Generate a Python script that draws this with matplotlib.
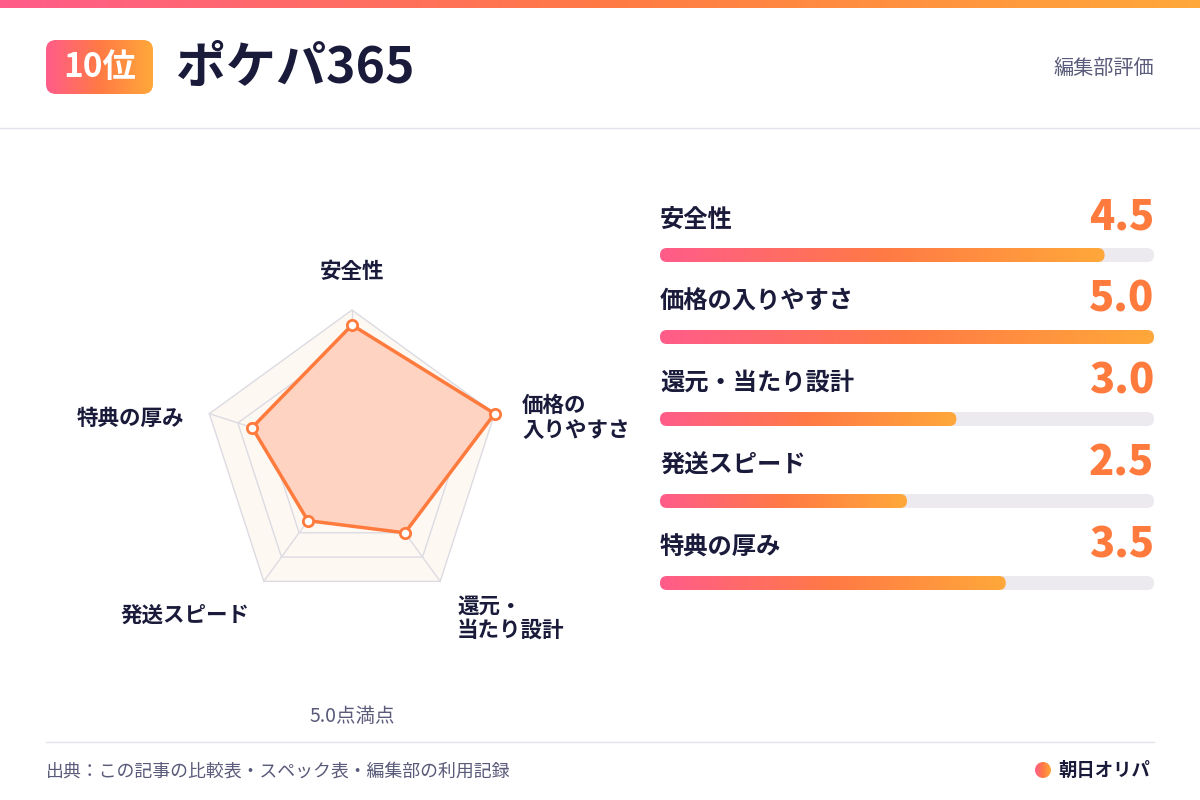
import numpy as np
import matplotlib
matplotlib.use('Agg')
import matplotlib.pyplot as plt
from matplotlib.patches import FancyBboxPatch, Polygon, Circle
from matplotlib.colors import LinearSegmentedColormap

plt.rcParams['font.family'] = ['Noto Sans CJK JP', 'DejaVu Sans']

categories = ['安全性', '価格の入りやすさ', '還元・当たり設計', '発送スピード', '特典の厚み']
radar_labels = ['安全性', '価格の\n入りやすさ', '還元・\n当たり設計', '発送スピード', '特典の厚み']
scores = [4.5, 5.0, 3.0, 2.5, 3.5]
max_score = 5.0

NAVY = '#1a1a3a'
GRAY = '#5a5a7a'
ORANGE = '#ff7a3d'
grad = LinearSegmentedColormap.from_list('g', ['#ff5c8a', '#ff7a45', '#ffa83a'])

fig = plt.figure(figsize=(12, 8), dpi=100)
ax = fig.add_axes([0, 0, 1, 1])
ax.set_xlim(0, 1200)
ax.set_ylim(800, 0)
ax.axis('off')

def gradient_rect(x0, x1, y0, y1, clip=None):
    g = np.linspace(0, 1, 256).reshape(1, -1)
    im = ax.imshow(g, cmap=grad, extent=[x0, x1, y1, y0], aspect='auto', zorder=3)
    if clip is not None:
        im.set_clip_path(clip)
    return im

# top stripe
gradient_rect(0, 1200, 0, 8)

# header
badge = FancyBboxPatch((46, 40), 107, 54, boxstyle='round,pad=0,rounding_size=10',
                       facecolor='none', edgecolor='none')
ax.add_patch(badge)
gradient_rect(46, 153, 40, 94, clip=badge)
ax.text(100, 68, '10位', color='white', fontsize=24, fontweight='bold', ha='center', va='center', zorder=4)
ax.text(176, 68, 'ポケパ365', color=NAVY, fontsize=36, fontweight='bold', ha='left', va='center')
ax.text(1154, 68, '編集部評価', color=GRAY, fontsize=14.5, ha='right', va='center')
ax.plot([0, 1200], [128, 128], color='#e2e2ea', lw=1)

# radar
cx, cy, R = 352, 460, 150
n = len(categories)
ang = np.pi / 2 - np.arange(n) * 2 * np.pi / n
def pts(vals):
    vals = np.asarray(vals) / max_score * R
    return np.column_stack([cx + vals * np.cos(ang), cy - vals * np.sin(ang)])

for lev in [1.0, 0.8, 0.6, 0.4, 0.2]:
    ax.add_patch(Polygon(pts([lev * max_score] * n), closed=True, facecolor='#fdf8f1',
                         edgecolor='#dcdbe3', lw=1, zorder=1))
for p in pts([max_score] * n):
    ax.plot([cx, p[0]], [cy, p[1]], color='#dcdbe3', lw=1, zorder=1)
dp = pts(scores)
ax.add_patch(Polygon(dp, closed=True, facecolor='#ffd3c1', edgecolor=ORANGE, lw=2.5, zorder=2))
ax.scatter(dp[:, 0], dp[:, 1], s=55, facecolor='white', edgecolor=ORANGE, linewidth=2, zorder=3)

label_pos = [(352, 272, 'center'), (522, 418, 'left'), (457, 618, 'left'),
             (185, 615, 'center'), (130, 418, 'center')]
for lab, (x, y, ha) in zip(radar_labels, label_pos):
    ax.text(x, y, lab, color=NAVY, fontsize=15.5, fontweight='bold', ha=ha, va='center',
            linespacing=1.2)
ax.text(352, 716, '5.0点満点', color=GRAY, fontsize=14, ha='center', va='center')

# bars
bx0, bx1, bh = 660, 1154, 14
for i, (cat, s) in enumerate(zip(categories, scores)):
    ly = 220 + i * 82
    by = 255 + i * 82
    ax.text(bx0, ly, cat, color=NAVY, fontsize=17.5, fontweight='bold', ha='left', va='center')
    ax.text(bx1, ly - 2, f'{s:.1f}', color=ORANGE, fontsize=30, fontweight='heavy', ha='right', va='center')
    ax.add_patch(FancyBboxPatch((bx0, by - bh / 2), bx1 - bx0, bh,
                                boxstyle='round,pad=0,rounding_size=7',
                                facecolor='#ece9ef', edgecolor='none', zorder=2))
    w = (bx1 - bx0) * s / max_score
    clip = FancyBboxPatch((bx0, by - bh / 2), w, bh, boxstyle='round,pad=0,rounding_size=7',
                          facecolor='none', edgecolor='none')
    ax.add_patch(clip)
    gradient_rect(bx0, bx0 + w, by - bh / 2, by + bh / 2, clip=clip)

# footer
ax.plot([46, 1154], [742, 742], color='#e2e2ea', lw=1)
ax.text(46, 772, '出典：この記事の比較表・スペック表・編集部の利用記録', color=GRAY, fontsize=12.9,
        ha='left', va='center')
logo = Circle((1043, 770), 8, facecolor='none', edgecolor='none')
ax.add_patch(logo)
gradient_rect(1035, 1051, 762, 778, clip=logo)
ax.text(1058, 770, '朝日オリパ', color=NAVY, fontsize=13.2, fontweight='bold', ha='left', va='center')

fig.savefig('out.png', dpi=100, facecolor='white')
